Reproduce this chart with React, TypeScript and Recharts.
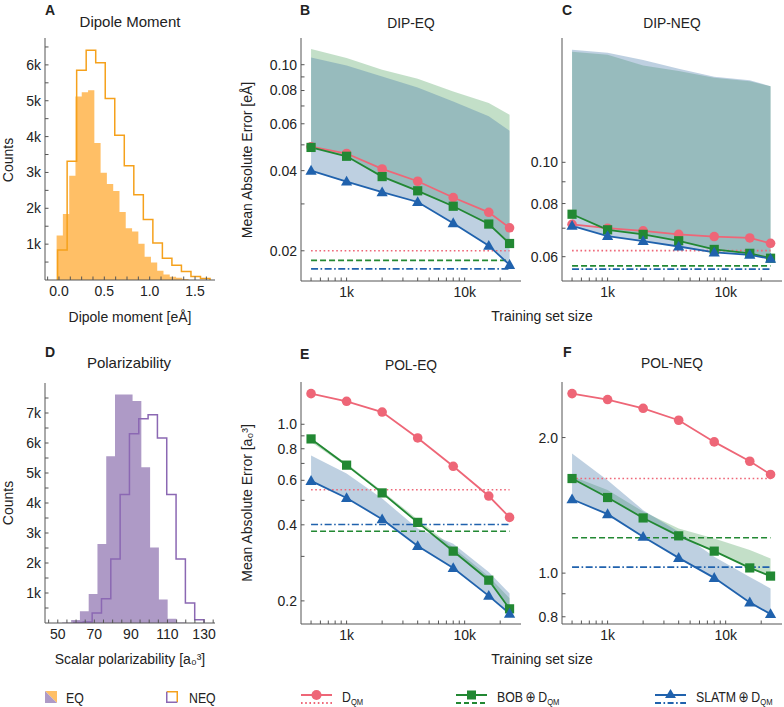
import React from 'react';
import { ComposedChart, Line, Area, XAxis, YAxis } from 'recharts';

// ---- training set sizes (x of panels B, C, E, F) ----
const trainSizes = [500, 1000, 2000, 4000, 8000, 16000, 24000];

// ---- B: DIP-EQ ----
const dipEqDqm = [0.0492, 0.0464, 0.0406, 0.0365, 0.0317, 0.0279, 0.0244];
const dipEqBob = [0.0489, 0.0453, 0.038, 0.0336, 0.0294, 0.0252, 0.0213];
const dipEqSlatm = [0.04, 0.0364, 0.0332, 0.0305, 0.0254, 0.0209, 0.0177];
const dipEqBobHigh = [0.1146, 0.106, 0.0958, 0.0886, 0.0794, 0.0718, 0.0649];
const dipEqSlatmHigh = [0.1065, 0.0994, 0.0904, 0.0822, 0.0728, 0.064, 0.0565];
const dipEqRefs = [0.02, 0.0184, 0.0171]; // D_QM, BOB, SLATM baselines

// ---- C: DIP-NEQ ----
const dipNeqDqm = [0.0715, 0.07, 0.069, 0.0677, 0.0669, 0.0664, 0.0645];
const dipNeqBob = [0.0755, 0.0694, 0.0677, 0.0654, 0.0624, 0.0611, 0.0595];
const dipNeqSlatm = [0.0709, 0.0671, 0.0653, 0.0634, 0.0614, 0.0606, 0.0593];
const dipNeqBobHigh = [0.182, 0.179, 0.169, 0.164, 0.158, 0.155, 0.151];
const dipNeqSlatmHigh = [0.184, 0.181, 0.174, 0.166, 0.159, 0.156, 0.151];
const dipNeqRefs = [0.062, 0.0571, 0.0561];

// ---- E: POL-EQ ----
const polEqDqm = [1.322, 1.233, 1.118, 0.883, 0.682, 0.52, 0.428];
const polEqBob = [0.875, 0.689, 0.535, 0.409, 0.3146, 0.2415, 0.186];
const polEqSlatm = [0.597, 0.511, 0.421, 0.33, 0.27, 0.2094, 0.178];
const polEqBobLow = [0.85, 0.68, 0.53, 0.405, 0.31, 0.24, 0.185];
const polEqBobHigh = [0.88, 0.7, 0.545, 0.42, 0.325, 0.25, 0.205];
const polEqSlatmHigh = [0.752, 0.638, 0.508, 0.387, 0.337, 0.26, 0.214];
const polEqRefs = [0.551, 0.3774, 0.401];

// ---- F: POL-NEQ ----
const polNeqDqm = [2.504, 2.429, 2.323, 2.185, 1.956, 1.772, 1.656];
const polNeqBob = [1.622, 1.472, 1.326, 1.21, 1.119, 1.027, 0.985];
const polNeqSlatm = [1.459, 1.352, 1.204, 1.081, 0.976, 0.861, 0.811];
const polNeqBobHigh = [1.64, 1.53, 1.37, 1.256, 1.194, 1.125, 1.078];
const polNeqSlatmHigh = [1.844, 1.608, 1.38, 1.235, 1.087, 0.981, 0.925];
const polNeqRefs = [1.622, 1.198, 1.031];

// ---- A: dipole moment histograms ----
const dipEqEdges = [-0.026, 0.043, 0.113, 0.182, 0.251, 0.321, 0.39, 0.459, 0.528, 0.598, 0.667, 0.736, 0.806, 0.875, 0.944, 1.014, 1.083, 1.152, 1.221, 1.291, 1.36, 1.429];
const dipEqCounts = [1240, 1840, 2910, 5120, 5240, 5290, 3820, 2990, 2680, 2480, 1900, 1440, 1350, 1010, 650, 490, 260, 150, 90, 60, 30];
const dipNeqEdges = [-0.015, 0.09, 0.195, 0.3, 0.405, 0.51, 0.615, 0.72, 0.825, 0.93, 1.035, 1.14, 1.245, 1.35, 1.455, 1.56, 1.665];
const dipNeqCounts = [840, 3310, 5850, 6410, 6060, 5060, 4040, 3190, 2380, 1690, 1030, 610, 410, 240, 100, 40];

// ---- D: polarizability histograms ----
const polEqEdges = [52.4, 57.3, 62.1, 66.9, 71.7, 76.5, 81.3, 86.1, 90.9, 95.7, 100.5, 105.3, 110.1, 114.9, 119.7];
const polEqCounts = [20, 100, 390, 970, 2630, 5560, 7620, 7620, 7400, 5190, 2520, 780, 140, 20];
const polNeqEdges = [58.8, 63.9, 68.8, 73.9, 79.0, 84.1, 89.2, 94.3, 99.4, 104.5, 109.6, 114.7, 119.8, 124.9, 130.0];
const polNeqCounts = [20, 30, 330, 810, 2130, 4280, 6310, 6810, 6940, 6170, 4280, 2130, 670, 110];

// ---- ticks ----
const errXMajor = [1000, 10000];
const errXMinor = [500, 600, 700, 800, 900, 2000, 3000, 4000, 5000, 6000, 7000, 8000, 9000, 20000];
const dipEqYMajor = [0.02, 0.04, 0.06, 0.08, 0.1];
const dipEqYMinor = [0.03, 0.05, 0.07, 0.09];
const dipNeqYMajor = [0.06, 0.08, 0.1];
const dipNeqYMinor = [0.07, 0.09];
const polEqYMajor = [0.2, 0.4, 0.6, 0.8, 1.0];
const polEqYMinor = [0.3, 0.5, 0.7, 0.9];
const polNeqYMajor = [0.8, 1.0, 2.0];
const polNeqYMinor = [0.9];
const dipXMajor = [0, 0.5, 1.0, 1.5];
const dipXMinor = [-0.125, 0.125, 0.25, 0.375, 0.625, 0.75, 0.875, 1.125, 1.25, 1.375, 1.625];
const dipYMajor = [1000, 2000, 3000, 4000, 5000, 6000];
const dipYMinor = [500, 1500, 2500, 3500, 4500, 5500, 6500];
const polXMajor = [50, 70, 90, 110, 130];
const polXMinor = [45, 55, 60, 65, 75, 80, 85, 95, 100, 105, 115, 120, 125, 135];
const polYMajor = [1000, 2000, 3000, 4000, 5000, 6000, 7000];
const polYMinor = [500, 1500, 2500, 3500, 4500, 5500, 6500, 7500];

// ---- style ----
const SANS = "'Liberation Sans', Arial, Helvetica, 'DejaVu Sans', sans-serif";
const PINK = '#ee6677';
const GREEN = '#228833';
const BLUE = '#2062ad';
const BLUE_BAND = '#4477aa';
const ORANGE_FILL = '#ffbf66';
const ORANGE_LINE = '#f5a11c';
const PURPLE_FILL = '#ae9ac6';
const PURPLE_LINE = '#8b68b3';
const FRAME = '#555';
const TEXT = '#222';

type Frame = { x1: number; y1: number; x2: number; y2: number };
const frames: Record<string, Frame> = {
  A: { x1: 45, y1: 38, x2: 215, y2: 280 },
  B: { x1: 301, y1: 38, x2: 521, y2: 281 },
  C: { x1: 562, y1: 38, x2: 782, y2: 281 },
  D: { x1: 45, y1: 383, x2: 215, y2: 623 },
  E: { x1: 301, y1: 382, x2: 521, y2: 624 },
  F: { x1: 562, y1: 382, x2: 782, y2: 624 },
};
const YW = 44;
const XH = 28;
const MT = 4;
const MR = 1;
const errXDomain: [number, number] = [411, 30000];

const chartBox = (f: Frame) => ({
  left: f.x1 - YW,
  top: f.y1 - MT,
  width: f.x2 - f.x1 + YW + MR,
  height: f.y2 - f.y1 + MT + XH,
});

const fmtK = (v: number) => `${Math.round(v / 1000)}k`;

// axes on all four sides with inward ticks, forming the frame
const frameAxes = (
  xScale: 'log' | 'linear', xDomain: [number, number], xMajor: number[], xMinor: number[], xFmt: (v: number) => string,
  yScale: 'log' | 'linear', yDomain: [number, number], yMajor: number[], yMinor: number[], yFmt: (v: number) => string,
  fontSize: number,
) => {
  const xt = [...xMajor, ...xMinor];
  const yt = [...yMajor, ...yMinor];
  const line = { stroke: FRAME, strokeWidth: 1 };
  const tick = { fill: TEXT, fontSize, fontFamily: SANS };
  return [
    <XAxis key="xb" dataKey="x" type="number" scale={xScale} domain={xDomain} allowDataOverflow ticks={xt} interval={0}
      tickFormatter={(v: number) => (xMajor.includes(v) ? xFmt(v) : '')} height={XH} tickSize={-3.5} tickMargin={9.5}
      axisLine={line} tickLine={line} tick={tick} />,
    <XAxis key="xt" xAxisId="top" orientation="top" type="number" scale={xScale} domain={xDomain} allowDataOverflow ticks={xt}
      interval={0} height={0} tickSize={-3.5} tick={false} axisLine={line} tickLine={line} />,
    <YAxis key="yl" type="number" scale={yScale} domain={yDomain} allowDataOverflow ticks={yt} interval={0}
      tickFormatter={(v: number) => (yMajor.includes(v) ? yFmt(v) : '')} width={YW} tickSize={-3.5} tickMargin={7.5}
      axisLine={line} tickLine={line} tick={tick} />,
    <YAxis key="yr" yAxisId="right" orientation="right" type="number" scale={yScale} domain={yDomain} allowDataOverflow ticks={yt}
      interval={0} width={0} tickSize={-3.5} tick={false} axisLine={line} tickLine={line} />,
  ];
};

const circleDot = (c: string) => (p: any) => <circle key={`c${p.index}`} cx={p.cx} cy={p.cy} r={4.8} fill={c} stroke="none" />;
const squareDot = (c: string) => (p: any) => <rect key={`s${p.index}`} x={p.cx - 4.6} y={p.cy - 4.6} width={9.2} height={9.2} fill={c} stroke="none" />;
const triangleDot = (c: string) => (p: any) => (
  <path key={`t${p.index}`} d={`M${p.cx},${p.cy - 5.8} L${p.cx + 5.6},${p.cy + 4} L${p.cx - 5.6},${p.cy + 4} Z`} fill={c} stroke="none" />
);

type ErrProps = {
  frame: Frame; yDomain: [number, number]; yMajor: number[]; yMinor: number[]; yFmt: (v: number) => string;
  dqm: number[]; bob: number[]; slatm: number[]; bobLow: number[]; bobHigh: number[]; slatmHigh: number[]; refs: number[];
};

const ErrorPanel = ({ frame, yDomain, yMajor, yMinor, yFmt, dqm, bob, slatm, bobLow, bobHigh, slatmHigh, refs }: ErrProps) => {
  const rows = trainSizes.map((x, i) => ({
    x,
    dqm: dqm[i],
    bob: bob[i],
    slatm: slatm[i],
    bobBand: [bobLow[i], bobHigh[i]],
    slatmBand: [slatm[i], slatmHigh[i]],
    dqmRef: refs[0],
    bobRef: refs[1],
    slatmRef: refs[2],
  }));
  const box = chartBox(frame);
  return (
    <div style={{ position: 'absolute', left: box.left, top: box.top }}>
      <ComposedChart width={box.width} height={box.height} data={rows} margin={{ top: MT, right: MR, bottom: 0, left: 0 }}>
        <Area dataKey="bobBand" type="linear" stroke="none" fill={GREEN} fillOpacity={0.27} isAnimationActive={false} />
        <Area dataKey="slatmBand" type="linear" stroke="none" fill={BLUE_BAND} fillOpacity={0.35} isAnimationActive={false} />
        <Line dataKey="dqmRef" stroke={PINK} strokeWidth={1.6} strokeDasharray="1.6 2.6" dot={false} isAnimationActive={false} />
        <Line dataKey="bobRef" stroke={GREEN} strokeWidth={1.6} strokeDasharray="6 3" dot={false} isAnimationActive={false} />
        <Line dataKey="slatmRef" stroke={BLUE} strokeWidth={1.6} strokeDasharray="7 2.5 1.6 2.5" dot={false} isAnimationActive={false} />
        <Line dataKey="dqm" stroke={PINK} strokeWidth={1.8} dot={circleDot(PINK)} activeDot={false} isAnimationActive={false} />
        <Line dataKey="bob" stroke={GREEN} strokeWidth={1.8} dot={squareDot(GREEN)} activeDot={false} isAnimationActive={false} />
        <Line dataKey="slatm" stroke={BLUE} strokeWidth={1.8} dot={triangleDot(BLUE)} activeDot={false} isAnimationActive={false} />
        {frameAxes('log', errXDomain, errXMajor, errXMinor, fmtK, 'log', yDomain, yMajor, yMinor, yFmt, 14)}
      </ComposedChart>
    </div>
  );
};

type HistProps = {
  frame: Frame; xDomain: [number, number]; xMajor: number[]; xMinor: number[]; xFmt: (v: number) => string;
  yDomain: [number, number]; yMajor: number[]; yMinor: number[];
  eqEdges: number[]; eqCounts: number[]; neqEdges: number[]; neqCounts: number[]; fill: string; line: string;
};

const HistPanel = ({ frame, xDomain, xMajor, xMinor, xFmt, yDomain, yMajor, yMinor, eqEdges, eqCounts, neqEdges, neqCounts, fill, line }: HistProps) => {
  const eqData = eqEdges.map((x, i) => ({ x, c: i < eqCounts.length ? eqCounts[i] : 0 }));
  const neqData = [{ x: neqEdges[0], c: 0 }, ...neqEdges.map((x, i) => ({ x, c: i < neqCounts.length ? neqCounts[i] : 0 }))];
  const box = chartBox(frame);
  return (
    <div style={{ position: 'absolute', left: box.left, top: box.top }}>
      <ComposedChart width={box.width} height={box.height} margin={{ top: MT, right: MR, bottom: 0, left: 0 }}>
        <Area data={eqData} dataKey="c" type="stepAfter" stroke="none" fill={fill} fillOpacity={1} isAnimationActive={false} />
        <Line data={neqData} dataKey="c" type="stepAfter" stroke={line} strokeWidth={1.5} dot={false} activeDot={false} isAnimationActive={false} />
        {frameAxes('linear', xDomain, xMajor, xMinor, xFmt, 'linear', yDomain, yMajor, yMinor, fmtK, 14)}
      </ComposedChart>
    </div>
  );
};

const Txt = ({ x, y, children, size = 14, bold = false, rotate = false, align = 'center', squeeze = 1 }: any) => (
  <div
    style={{
      position: 'absolute',
      left: x,
      top: y,
      transformOrigin: align === 'center' ? 'center' : 'left center',
      transform: `${align === 'center' ? 'translate(-50%, -50%)' : 'translate(0, -50%)'}${rotate ? ' rotate(-90deg)' : ''}${squeeze !== 1 ? ` scaleX(${squeeze})` : ''}`,
      fontSize: size,
      fontWeight: bold ? 700 : 400,
      fontFamily: SANS,
      color: TEXT,
      lineHeight: 1,
      whiteSpace: 'nowrap',
    }}
  >
    {children}
  </div>
);

const Dqm = () => (
  <span>
    D<span style={{ fontSize: '0.62em', position: 'relative', top: '0.35em' }}>QM</span>
  </span>
);

const LineIcon = ({ x, color, dash, marker }: { x: number; color: string; dash: string; marker: 'c' | 's' | 't' }) => (
  <svg style={{ position: 'absolute', left: x, top: 688 }} width={31} height={18}>
    <line x1={0} y1={7} x2={31} y2={7} stroke={color} strokeWidth={2} />
    <line x1={0} y1={15} x2={31} y2={15} stroke={color} strokeWidth={2} strokeDasharray={dash} />
    {marker === 'c' && <circle cx={15.5} cy={7} r={5} fill={color} />}
    {marker === 's' && <rect x={11} y={2.5} width={9} height={9} fill={color} />}
    {marker === 't' && <path d="M15.5,1 L21,10 L10,10 Z" fill={color} />}
  </svg>
);

const App = () => (
  <div style={{ position: 'absolute', left: 0, top: 0, width: 784, height: 707, background: '#fff', overflow: 'hidden' }}>
    <HistPanel frame={frames.A} xDomain={[-0.154, 1.72]} xMajor={dipXMajor} xMinor={dipXMinor} xFmt={(v) => v.toFixed(1)}
      yDomain={[0, 6750]} yMajor={dipYMajor} yMinor={dipYMinor}
      eqEdges={dipEqEdges} eqCounts={dipEqCounts} neqEdges={dipNeqEdges} neqCounts={dipNeqCounts} fill={ORANGE_FILL} line={ORANGE_LINE} />
    <HistPanel frame={frames.D} xDomain={[43, 136]} xMajor={polXMajor} xMinor={polXMinor} xFmt={(v) => String(v)}
      yDomain={[0, 8000]} yMajor={polYMajor} yMinor={polYMinor}
      eqEdges={polEqEdges} eqCounts={polEqCounts} neqEdges={polNeqEdges} neqCounts={polNeqCounts} fill={PURPLE_FILL} line={PURPLE_LINE} />
    <ErrorPanel frame={frames.B} yDomain={[0.0154, 0.126]} yMajor={dipEqYMajor} yMinor={dipEqYMinor} yFmt={(v) => v.toFixed(2)}
      dqm={dipEqDqm} bob={dipEqBob} slatm={dipEqSlatm} bobLow={dipEqBob} bobHigh={dipEqBobHigh} slatmHigh={dipEqSlatmHigh} refs={dipEqRefs} />
    <ErrorPanel frame={frames.C} yDomain={[0.0526, 0.196]} yMajor={dipNeqYMajor} yMinor={dipNeqYMinor} yFmt={(v) => v.toFixed(2)}
      dqm={dipNeqDqm} bob={dipNeqBob} slatm={dipNeqSlatm} bobLow={dipNeqBob} bobHigh={dipNeqBobHigh} slatmHigh={dipNeqSlatmHigh} refs={dipNeqRefs} />
    <ErrorPanel frame={frames.E} yDomain={[0.162, 1.47]} yMajor={polEqYMajor} yMinor={polEqYMinor} yFmt={(v) => v.toFixed(1)}
      dqm={polEqDqm} bob={polEqBob} slatm={polEqSlatm} bobLow={polEqBobLow} bobHigh={polEqBobHigh} slatmHigh={polEqSlatmHigh} refs={polEqRefs} />
    <ErrorPanel frame={frames.F} yDomain={[0.771, 2.657]} yMajor={polNeqYMajor} yMinor={polNeqYMinor} yFmt={(v) => v.toFixed(1)}
      dqm={polNeqDqm} bob={polNeqBob} slatm={polNeqSlatm} bobLow={polNeqBob} bobHigh={polNeqBobHigh} slatmHigh={polNeqSlatmHigh} refs={polNeqRefs} />

    {/* panel letters */}
    <Txt x={45} y={10} bold align="left">A</Txt>
    <Txt x={300} y={10} bold align="left">B</Txt>
    <Txt x={562} y={10} bold align="left">C</Txt>
    <Txt x={45} y={352} bold align="left">D</Txt>
    <Txt x={300} y={354} bold align="left">E</Txt>
    <Txt x={563} y={352} bold align="left">F</Txt>

    {/* titles */}
    <Txt x={130} y={21} size={15}>Dipole Moment</Txt>
    <Txt x={411} y={22} size={15} squeeze={0.92}>DIP-EQ</Txt>
    <Txt x={672} y={22} size={15} squeeze={0.92}>DIP-NEQ</Txt>
    <Txt x={129} y={362} size={15}>Polarizability</Txt>
    <Txt x={411} y={364} size={15} squeeze={0.92}>POL-EQ</Txt>
    <Txt x={672} y={362} size={15} squeeze={0.92}>POL-NEQ</Txt>

    {/* axis titles */}
    <Txt x={8} y={160} rotate>Counts</Txt>
    <Txt x={8} y={503} rotate>Counts</Txt>
    <Txt x={247} y={160} rotate>Mean Absolute Error [eÅ]</Txt>
    <Txt x={247} y={503} rotate>Mean Absolute Error [a₀³]</Txt>
    <Txt x={130} y={317}>Dipole moment [eÅ]</Txt>
    <Txt x={130} y={659}>Scalar polarizability [a₀³]</Txt>
    <Txt x={542} y={316}>Training set size</Txt>
    <Txt x={542} y={659}>Training set size</Txt>

    {/* legend */}
    <svg style={{ position: 'absolute', left: 45, top: 691 }} width={12} height={12}>
      <polygon points="0,0 12,0 12,12" fill={ORANGE_FILL} />
      <polygon points="0,0 0,12 12,12" fill={PURPLE_FILL} />
    </svg>
    <Txt x={66} y={697} size={15} align="left" squeeze={0.82}>EQ</Txt>
    <svg style={{ position: 'absolute', left: 166, top: 691 }} width={12} height={12}>
      <path d="M0.75,0.75 H11.25 V11.25" stroke={ORANGE_LINE} strokeWidth={1.5} fill="none" />
      <path d="M0.75,0.75 V11.25 H11.25" stroke={PURPLE_LINE} strokeWidth={1.5} fill="none" />
    </svg>
    <Txt x={189} y={697} size={15} align="left" squeeze={0.82}>NEQ</Txt>
    <LineIcon x={301} color={PINK} dash="1.6 2.6" marker="c" />
    <Txt x={342} y={697} size={15} align="left" squeeze={0.82}><Dqm /></Txt>
    <LineIcon x={456} color={GREEN} dash="5 3" marker="s" />
    <Txt x={497} y={697} size={15} align="left" squeeze={0.82}>BOB{'\u2009'}⊕{'\u2009'}<Dqm /></Txt>
    <LineIcon x={655} color={BLUE} dash="6 2.5 1.6 2.5" marker="t" />
    <Txt x={696} y={697} size={15} align="left" squeeze={0.82}>SLATM{'\u2009'}⊕{'\u2009'}<Dqm /></Txt>
  </div>
);

export default App;
